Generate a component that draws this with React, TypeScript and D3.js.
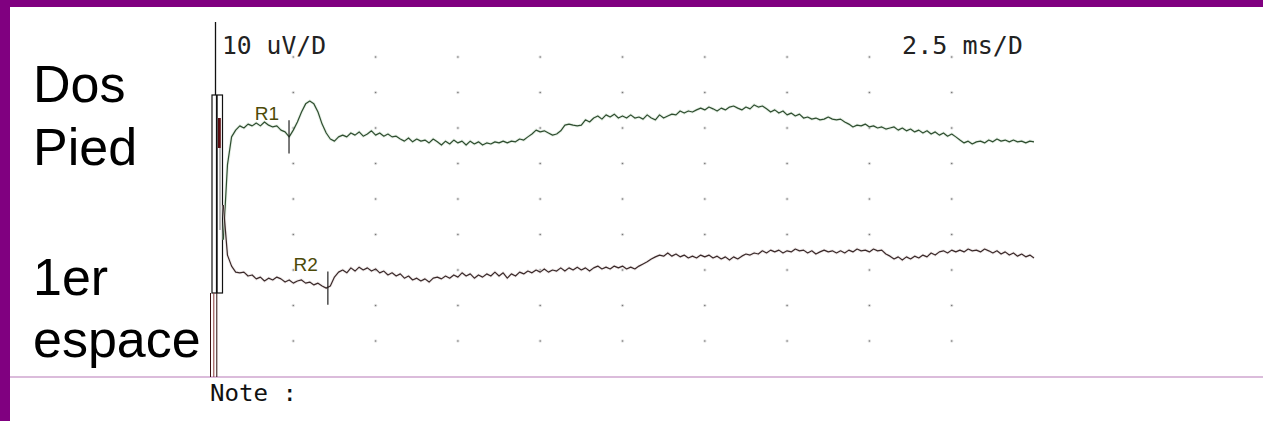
import React from "react";
import * as d3 from "d3";

// ---- Data -------------------------------------------------------------
const SAMPLE_START_MS = 0.375;
const SAMPLE_STEP_MS = 0.125;

// Trace 1 "Dos Pied" amplitudes (µV, relative to its baseline)
const TRACE_DOS_PIED = [
  -31.5, -10.4, -2.5, -0.6, 0.6, 0, 1.1, 0.6, 1.4, 0.6,
  1.7, 0.8, 0.3, 0.6, -0.6, -1.1, -2.5, -0.6, 1.7, 4.5,
  6.8, 7.6, 6.8, 4.5, 1.1, -1.4, -3.1, -3.7, -2.5, -2.0,
  -2.5, -1.4, -2.0, -1.1, -2.3, -1.7, -0.8, -2.0, -1.4, -2.3,
  -1.7, -2.5, -2.3, -3.1, -3.7, -2.8, -3.9, -3.1, -3.7, -3.4,
  -4.2, -3.1, -3.9, -4.8, -3.7, -4.5, -3.4, -4.2, -3.7, -4.8,
  -3.7, -4.5, -3.9, -4.8, -4.2, -4.5, -3.9, -4.2, -3.7, -4.2,
  -3.7, -3.9, -3.1, -3.4, -2.5, -1.7, -0.6, -1.1, -0.8, -1.4,
  -2.0, -1.7, -0.8, 0.8, 1.1, 0.8, 0.6, 0.8, 2.3, 1.7,
  2.8, 3.4, 2.5, 3.7, 3.1, 3.9, 2.8, 3.4, 2.8, 3.7,
  2.8, 3.1, 2.5, 3.7, 2.8, 2.3, 3.7, 2.8, 3.4, 3.9,
  3.7, 4.8, 4.2, 4.8, 4.5, 5.1, 5.6, 5.1, 5.9, 5.4,
  4.8, 5.6, 5.1, 5.9, 6.2, 5.6, 5.1, 5.9, 5.4, 6.5,
  5.9, 6.2, 5.4, 4.5, 5.1, 4.2, 4.8, 3.7, 4.2, 3.4,
  3.9, 2.8, 3.1, 2.5, 2.8, 2.3, 2.5, 3.1, 2.5, 2.3,
  2.5, 1.7, 1.1, 0.3, 0.8, 0.6, 1.1, 0.3, 0.6, 0,
  0.3, -0.3, 0, 0.3, -0.6, 0, -0.8, -0.3, -1.1, -0.6,
  -1.4, -0.8, -1.7, -1.1, -2.0, -1.4, -2.3, -1.7, -2.5, -3.4,
  -4.2, -3.7, -4.5, -3.9, -3.7, -4.2, -3.4, -3.9, -3.1, -3.7,
  -3.4, -3.9, -3.4, -3.9, -3.7, -4.2, -3.7, -3.9,
];

// Trace 2 "1er espace" amplitudes (µV, relative to its baseline)
const TRACE_1ER_ESPACE = [
  18.3, 4.2, 1.1, -0.6, -0.8, -0.6, -1.7, -1.4, -2.5, -2.0,
  -3.1, -2.3, -2.8, -2.0, -2.5, -3.4, -2.8, -3.7, -3.1, -2.8,
  -3.7, -3.4, -4.2, -3.7, -4.5, -5.1, -4.5, -2.0, -0.6, 0,
  -0.8, 0.6, -0.3, 0.8, 0, 0.6, -0.3, 0.3, -0.8, -0.3,
  -1.4, -0.8, -1.7, -1.1, -2.3, -1.7, -2.8, -2.3, -3.1, -2.5,
  -3.4, -2.3, -2.0, -2.5, -1.7, -2.3, -1.4, -2.0, -0.8, -1.7,
  -1.1, -2.3, -1.4, -2.0, -1.1, -1.7, -0.6, -1.7, -0.8, -2.3,
  -1.1, -1.7, -0.6, -1.1, -0.3, -0.8, 0, -0.6, 0.3, -0.6,
  0, -0.3, 0.6, -0.3, 0.6, 0, 0.8, 0, 0.6, -0.3,
  0.6, 1.1, 0.3, 0.8, 0.3, 1.1, 0.6, 1.1, 0.3, 0.8,
  0.3, 1.1, 1.7, 2.3, 3.1, 3.7, 4.2, 3.9, 4.8, 3.9,
  4.5, 3.7, 4.2, 3.4, 3.9, 3.4, 4.2, 3.7, 4.2, 3.4,
  3.9, 3.1, 3.7, 2.8, 3.7, 3.1, 3.9, 4.5, 4.2, 4.8,
  4.5, 5.4, 4.8, 5.6, 5.1, 5.6, 4.8, 5.4, 5.1, 5.9,
  5.4, 5.6, 4.8, 5.4, 4.5, 5.1, 5.6, 5.1, 5.4, 4.8,
  5.4, 4.8, 5.6, 5.1, 5.9, 5.4, 5.6, 5.1, 5.9, 5.4,
  5.6, 4.5, 3.9, 3.1, 3.7, 2.8, 3.7, 3.1, 3.9, 3.4,
  4.2, 3.7, 4.8, 4.2, 5.1, 5.4, 4.8, 5.6, 5.1, 5.6,
  5.1, 5.9, 5.4, 5.6, 5.1, 5.9, 5.4, 4.8, 5.4, 4.5,
  5.1, 4.2, 4.8, 3.9, 4.5, 3.7, 4.2, 3.4,
];

const TRACE_OFFSETS_UV = [20, -20];
const TRACE_COLORS = ["#2f4d30", "#3a2a2a"];
const TRACE_NAMES = [["Dos", "Pied"], ["1er", "espace"]];

const MARKER_LABELS = ["R1", "R2"];
const MARKER_TRACE = [0, 1];
const MARKER_TIMES_MS = [2.37, 3.55];
const MARKER_SPAN_UV = 4.7;

const TIME_DIVS_MS = [2.5, 5, 7.5, 10, 12.5, 15, 17.5, 20, 22.5];
const AMP_DIVS_UV = [40, 30, 20, 10, 0, -10, -20, -30, -40];

const GAIN_LABEL = "10 uV/D";
const SWEEP_LABEL = "2.5 ms/D";
const NOTE_LABEL = "Note :";

// ---- Component --------------------------------------------------------
export default function App() {
  const W = 1263;
  const H = 421;
  const x = d3.scaleLinear().domain([0, 25]).range([211, 1034]);
  const y = d3.scaleLinear().domain([-50, 50]).range([376.5, 21.5]);

  const traces = [TRACE_DOS_PIED, TRACE_1ER_ESPACE];
  const line = d3
    .line<[number, number]>()
    .x((d) => x(d[0]))
    .y((d) => y(d[1]));

  const traceData = traces.map((arr, ti) =>
    arr.map((v, i) => [SAMPLE_START_MS + i * SAMPLE_STEP_MS, v + TRACE_OFFSETS_UV[ti]] as [number, number])
  );

  const valueAt = (ti: number, t: number) => {
    const idx = Math.round((t - SAMPLE_START_MS) / SAMPLE_STEP_MS);
    return traceData[ti][Math.max(0, Math.min(idx, traceData[ti].length - 1))][1];
  };

  const mono = "'DejaVu Sans Mono', monospace";
  const sans = "'Liberation Sans', Arial, sans-serif";

  const labelBaselines = [[102, 165], [295, 357]];

  return (
    <svg width={W} height={H} style={{ position: "absolute", left: 0, top: 0, background: "#fff" }}>
      <rect x={0} y={0} width={W} height={H} fill="#ffffff" />
      {/* purple frame */}
      <rect x={0} y={0} width={W} height={7} fill="#800080" />
      <rect x={0} y={0} width={10} height={H} fill="#800080" />
      <line x1={10} x2={W} y1={377} y2={377} stroke="#b77bb7" strokeWidth={1.2} />

      {/* grid dots */}
      {TIME_DIVS_MS.map((t) =>
        AMP_DIVS_UV.map((a) => (
          <g key={`${t}-${a}`}>
            <circle cx={x(t)} cy={y(a)} r={1.8} fill="#e4e4e4" />
            <circle cx={x(t)} cy={y(a)} r={0.8} fill="#7a7a7a" />
          </g>
        ))
      )}

      {/* calibration / stimulus artefact block */}
      <line x1={215.5} x2={215.5} y1={22} y2={95} stroke="#111" strokeWidth={1.3} />
      <rect x={212} y={95} width={10.5} height={198} fill="none" stroke="#111" strokeWidth={1.2} />
      <line x1={216.8} x2={216.8} y1={95} y2={293} stroke="#111" strokeWidth={1.8} />
      <rect x={218} y={118} width={2.8} height={30} fill="#5a0d12" />
      <line x1={220} x2={220} y1={148} y2={230} stroke="#555" strokeWidth={0.8} />
      <line x1={210.5} x2={210.5} y1={293} y2={377} stroke="#3a1010" strokeWidth={1} />
      <line x1={213.8} x2={213.8} y1={293} y2={377} stroke="#8a3a3a" strokeWidth={1} />
      <line x1={216.8} x2={216.8} y1={293} y2={377} stroke="#2a0a0a" strokeWidth={1} />

      {/* traces */}
      {traceData.map((d, ti) => (
        <g key={ti}>
          <path d={line(d) || ""} fill="none" stroke={ti === 0 ? "#cfe3cf" : "#e6dada"} strokeWidth={3} strokeOpacity={0.5} />
          <path d={line(d) || ""} fill="none" stroke={TRACE_COLORS[ti]} strokeWidth={1.2} strokeLinejoin="round" />
        </g>
      ))}

      {/* latency markers */}
      {MARKER_LABELS.map((lab, mi) => {
        const ti = MARKER_TRACE[mi];
        const t = MARKER_TIMES_MS[mi];
        const v = valueAt(ti, t);
        const top = y(v + MARKER_SPAN_UV);
        return (
          <g key={lab}>
            <line x1={x(t)} x2={x(t)} y1={top} y2={y(v - MARKER_SPAN_UV)} stroke="#222" strokeWidth={1.2} />
            <text x={x(t) - 10} y={top} textAnchor="end" fontFamily={sans} fontSize={19} fill="#4d4a08">
              {lab}
            </text>
          </g>
        );
      })}

      {/* header texts */}
      <text x={222} y={54} fontFamily={mono} fontSize={24} fill="#222" textLength={104} lengthAdjust="spacingAndGlyphs">
        {GAIN_LABEL}
      </text>
      <text x={902} y={54} fontFamily={mono} fontSize={24} fill="#222" textLength={121} lengthAdjust="spacingAndGlyphs">
        {SWEEP_LABEL}
      </text>
      <text x={210} y={401} fontFamily={mono} fontSize={23} fill="#111" textLength={87} lengthAdjust="spacingAndGlyphs">
        {NOTE_LABEL}
      </text>

      {/* trace names */}
      {TRACE_NAMES.map((names, ti) =>
        names.map((n, li) => (
          <text key={`${ti}-${li}`} x={33} y={labelBaselines[ti][li]} fontFamily={sans} fontSize={52} fill="#000">
            {n}
          </text>
        ))
      )}
    </svg>
  );
}
